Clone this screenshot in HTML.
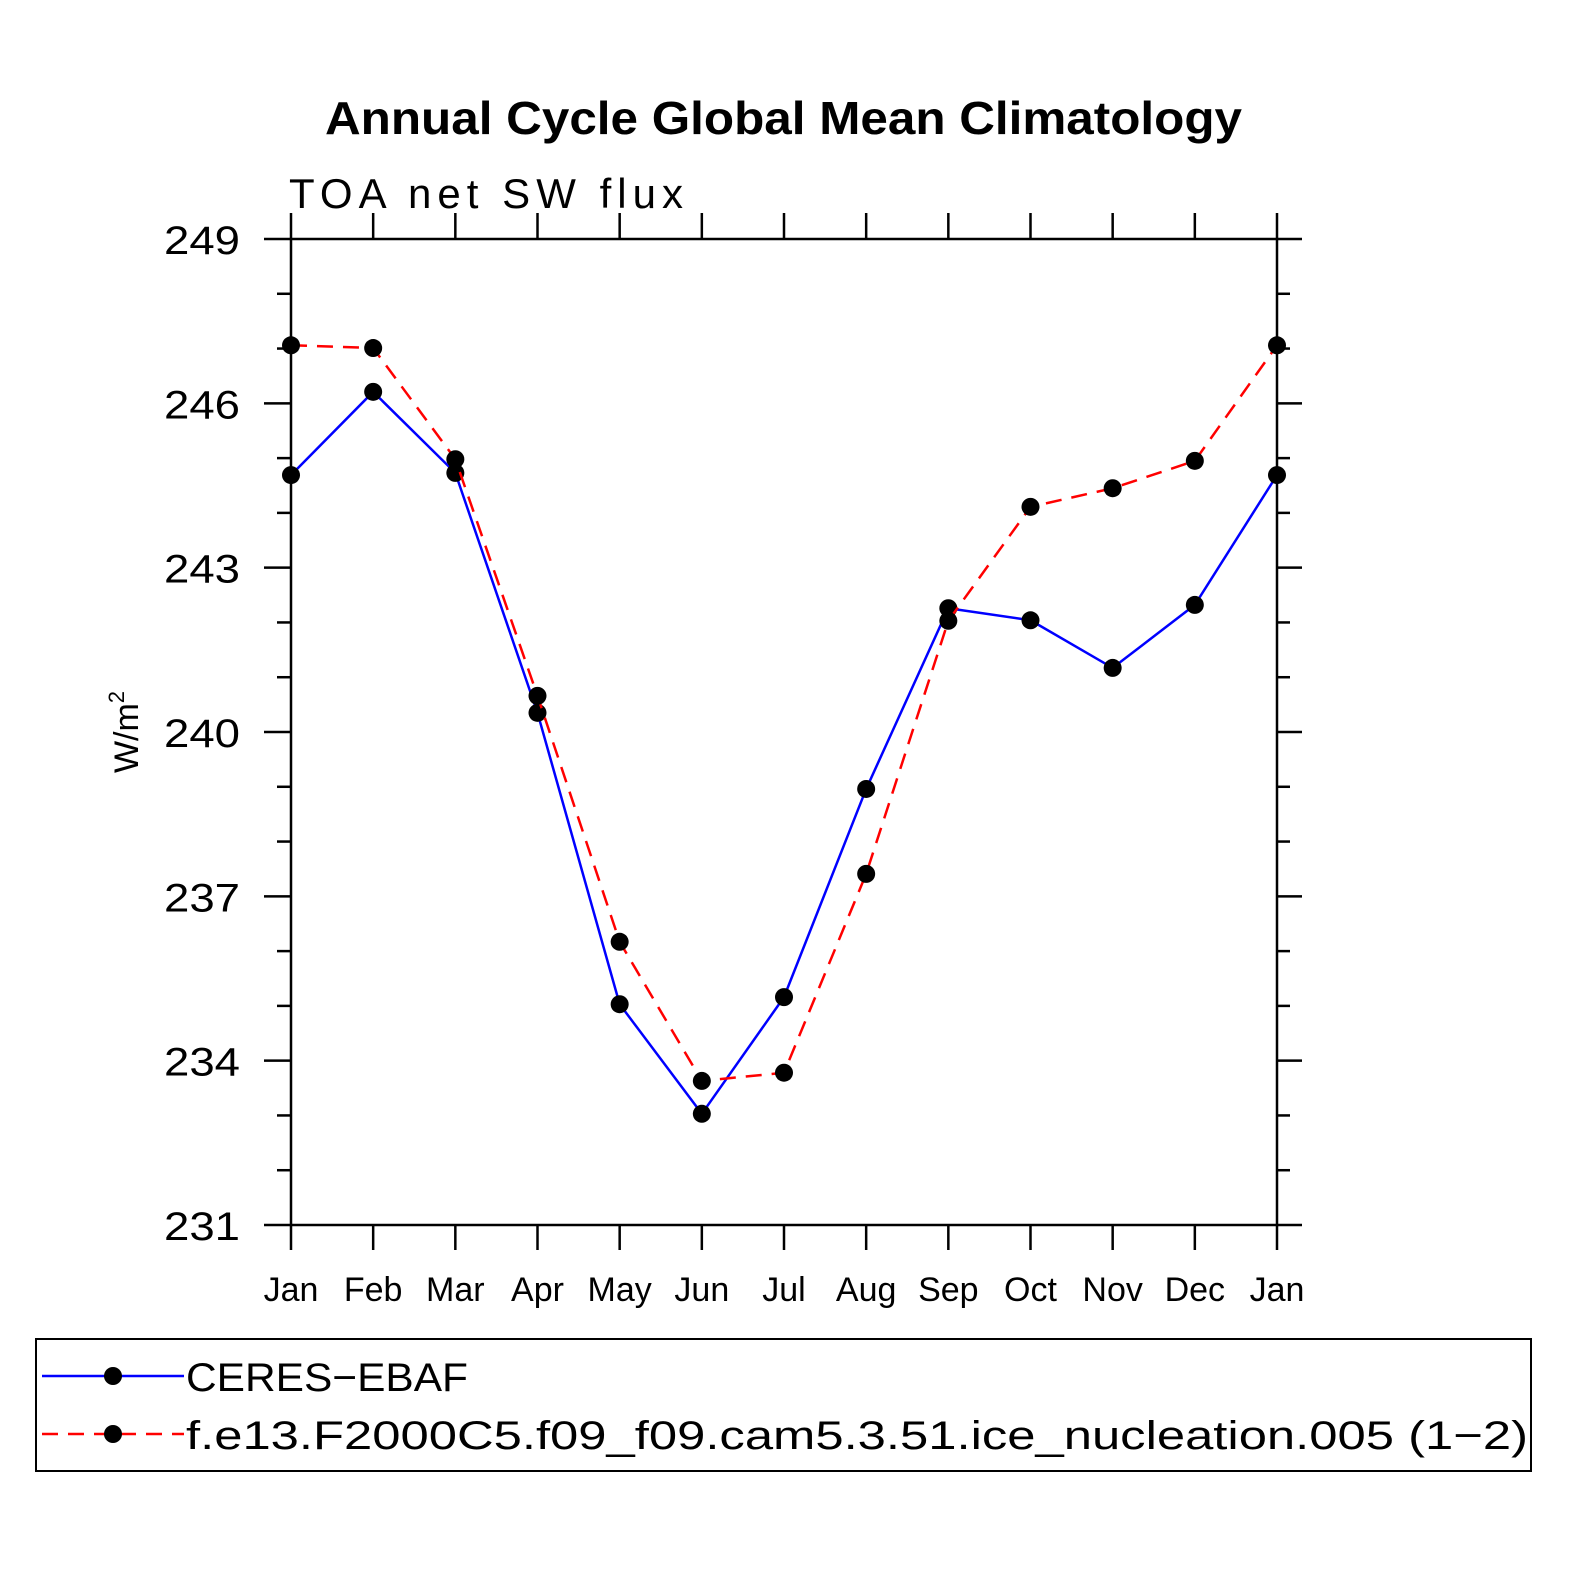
<!DOCTYPE html>
<html><head><meta charset="utf-8"><style>
body{margin:0;background:#fff}
svg text{font-family:"Liberation Sans",sans-serif}
</style></head><body>
<svg width="1574" height="1574" viewBox="0 0 1574 1574">
<text x="325" y="134" font-size="46" font-weight="bold" textLength="917" lengthAdjust="spacingAndGlyphs">Annual Cycle Global Mean Climatology</text>
<text x="289" y="208" font-size="42" textLength="394" lengthAdjust="spacing">TOA  net  SW  flux</text>
<text transform="translate(138,732) rotate(-90)" font-size="34" text-anchor="middle">W/m<tspan dy="-14" font-size="22">2</tspan></text>
<g id="axes"></g>
<g id="series"></g>
<rect x="36" y="1339" width="1495" height="132" fill="none" stroke="#000" stroke-width="2"/>
<g>
<line x1="42" y1="1376" x2="184" y2="1376" stroke="#00f" stroke-width="2.5"/>
<circle cx="113" cy="1376" r="9"/>
<text x="186" y="1391" font-size="40" textLength="282" lengthAdjust="spacingAndGlyphs">CERES−EBAF</text></g>
<g>
<line x1="42" y1="1434" x2="184" y2="1434" stroke="#f00" stroke-width="2.5" stroke-dasharray="16,10"/>
<circle cx="113" cy="1434" r="9"/>
<text x="186" y="1449" font-size="40" textLength="1342" lengthAdjust="spacingAndGlyphs">f.e13.F2000C5.f09_f09.cam5.3.51.ice_nucleation.005 (1−2)</text></g>
</svg>
<script>
const months=["Jan","Feb","Mar","Apr","May","Jun","Jul","Aug","Sep","Oct","Nov","Dec","Jan"];
const ceres=[244.69,246.21,244.73,240.35,235.03,233.03,235.16,238.96,242.26,242.04,241.17,242.32,244.69];
const model=[247.06,247.01,244.98,240.66,236.17,233.63,233.78,237.41,242.03,244.11,244.45,244.95,247.06];
const yTicks=[231,234,237,240,243,246,249];
const NS="http://www.w3.org/2000/svg";
const x0=291,x1=1277,y0=1225,y1=239,vmin=231,vmax=249;
const X=i=>x0+(x1-x0)*i/12;
const Y=v=>y0-(v-vmin)/(vmax-vmin)*(y0-y1);
function mk(t,a,p){const e=document.createElementNS(NS,t);for(const k in a)e.setAttribute(k,a[k]);p.appendChild(e);return e;}
const ax=document.getElementById('axes');
const fr=mk('rect',{x:x0,y:y1,width:x1-x0,height:y0-y1,fill:'none',stroke:'#000','stroke-width':2.5},ax);


for(let v=vmin;v<=vmax;v++){
  const y=Y(v);const major=yTicks.includes(v);
  mk('line',{x1:major?264:277,y1:y,x2:x0,y2:y,stroke:'#000','stroke-width':2.5},ax);
  mk('line',{x1:x1,y1:y,x2:major?1302:1290,y2:y,stroke:'#000','stroke-width':2.5},ax);
  if(major){const t=mk('text',{x:240,y:y+15,'font-size':40,'text-anchor':'end',textLength:76,lengthAdjust:'spacingAndGlyphs'},ax);t.textContent=v;
    
    }
}
months.forEach((m,i)=>{
  const x=X(i);
  mk('line',{x1:x,y1:213,x2:x,y2:y1,stroke:'#000','stroke-width':2.5},ax);
  mk('line',{x1:x,y1:y0,x2:x,y2:1250,stroke:'#000','stroke-width':2.5},ax);
  const t=mk('text',{x:x,y:1301,'font-size':34,'text-anchor':'middle'},ax);t.textContent=m;
  
  
});
const sg=document.getElementById('series');
function series(vals,color,dash,name){
  const g=mk('g',{},sg);
  
  
  const a={points:vals.map((v,i)=>X(i)+','+Y(v)).join(' '),fill:'none',stroke:color,'stroke-width':2.5};
  if(dash)a['stroke-dasharray']=dash;
  mk('polyline',a,g);
  vals.forEach((v,i)=>{const c=mk('circle',{cx:X(i),cy:Y(v),r:9,fill:'#000'},g);
    
    });
}
series(ceres,'#00f',null,'ceres-series');
series(model,'#f00','16,10','model-series');
</script>
</body></html>
